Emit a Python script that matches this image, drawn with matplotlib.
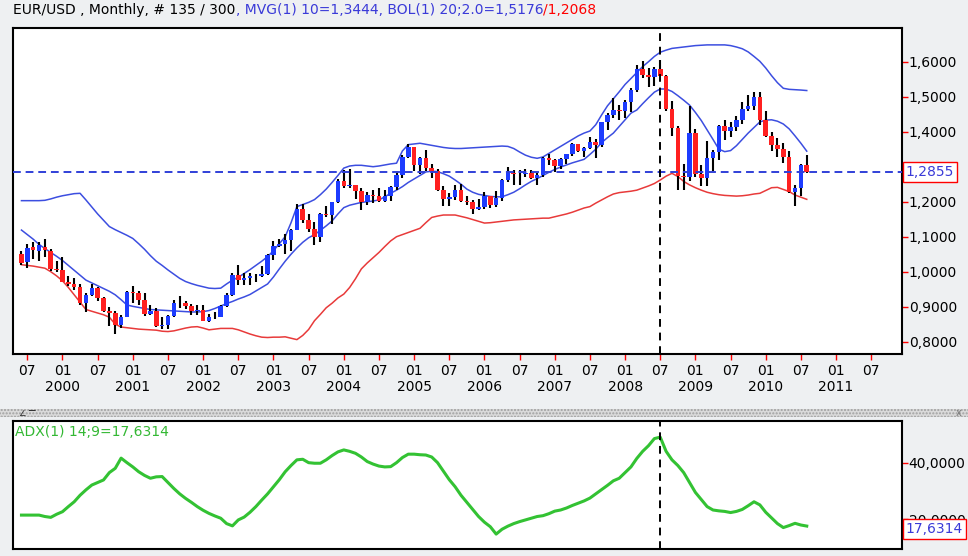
import matplotlib.pyplot as plt
from matplotlib.patches import Rectangle
import numpy as np
import pandas as pd

plt.rcParams['font.family'] = ['DejaVu Sans']
plt.rcParams['font.size'] = 10

# monthly EUR/USD bars, Jun 1999 .. Aug 2010
first_month = '1999-06'
last_axis_month = '2011-07'
cursor_month = '2008-07'
last_price = 1.2855

open_ = [1.052, 1.027, 1.071, 1.058, 1.072, 1.058, 1.008, 1.006, 0.972, 0.966,
         0.957, 0.911, 0.934, 0.953, 0.925, 0.889, 0.883, 0.849, 0.871, 0.942,
         0.938, 0.920, 0.880, 0.888, 0.846, 0.849, 0.874, 0.912, 0.911, 0.901,
         0.889, 0.890, 0.860, 0.870, 0.872, 0.902, 0.933, 0.991, 0.977, 0.981,
         0.987, 0.988, 0.993, 1.049, 1.073, 1.079, 1.091, 1.120, 1.180, 1.148,
         1.123, 1.099, 1.165, 1.161, 1.199, 1.259, 1.246, 1.247, 1.231, 1.198,
         1.219, 1.217, 1.202, 1.215, 1.243, 1.276, 1.329, 1.356, 1.304, 1.325,
         1.296, 1.288, 1.234, 1.209, 1.213, 1.233, 1.203, 1.198, 1.179, 1.184,
         1.215, 1.192, 1.212, 1.262, 1.281, 1.279, 1.278, 1.281, 1.268, 1.276,
         1.325, 1.319, 1.303, 1.323, 1.336, 1.365, 1.345, 1.354, 1.370, 1.363,
         1.427, 1.448, 1.463, 1.459, 1.485, 1.518, 1.579, 1.561, 1.556, 1.578,
         1.560, 1.466, 1.410, 1.273, 1.270, 1.397, 1.280, 1.267, 1.325, 1.342,
         1.415, 1.403, 1.412, 1.433, 1.464, 1.472, 1.500, 1.433, 1.387, 1.363,
         1.351, 1.329, 1.229, 1.240, 1.305]
high = [1.058, 1.078, 1.085, 1.085, 1.094, 1.066, 1.030, 1.041, 0.989, 0.982,
        0.966, 0.938, 0.965, 0.956, 0.929, 0.900, 0.889, 0.876, 0.945, 0.959,
        0.946, 0.939, 0.906, 0.895, 0.871, 0.877, 0.919, 0.932, 0.916, 0.909,
        0.905, 0.904, 0.878, 0.885, 0.905, 0.940, 0.996, 1.018, 0.995, 0.995,
        0.994, 1.015, 1.050, 1.087, 1.094, 1.108, 1.121, 1.193, 1.193, 1.164,
        1.141, 1.167, 1.189, 1.200, 1.265, 1.290, 1.293, 1.248, 1.238, 1.228,
        1.233, 1.239, 1.234, 1.244, 1.281, 1.333, 1.366, 1.357, 1.327, 1.348,
        1.309, 1.294, 1.245, 1.226, 1.248, 1.252, 1.216, 1.204, 1.208, 1.229,
        1.216, 1.232, 1.265, 1.298, 1.290, 1.290, 1.293, 1.292, 1.281, 1.329,
        1.337, 1.323, 1.325, 1.337, 1.368, 1.365, 1.355, 1.385, 1.380, 1.428,
        1.453, 1.497, 1.476, 1.491, 1.524, 1.590, 1.602, 1.582, 1.584, 1.604,
        1.563, 1.487, 1.415, 1.308, 1.472, 1.407, 1.306, 1.374, 1.349, 1.418,
        1.434, 1.429, 1.445, 1.484, 1.506, 1.514, 1.514, 1.458, 1.398, 1.382,
        1.369, 1.344, 1.247, 1.307, 1.333]
low = [1.020, 1.012, 1.036, 1.030, 1.041, 1.002, 0.999, 0.970, 0.958, 0.949,
       0.904, 0.884, 0.931, 0.916, 0.885, 0.844, 0.823, 0.838, 0.870, 0.911,
       0.904, 0.874, 0.877, 0.843, 0.835, 0.836, 0.870, 0.895, 0.894, 0.876,
       0.875, 0.858, 0.857, 0.864, 0.872, 0.900, 0.931, 0.963, 0.961, 0.961,
       0.970, 0.986, 0.991, 1.033, 1.071, 1.050, 1.059, 1.118, 1.140, 1.113,
       1.077, 1.086, 1.155, 1.136, 1.197, 1.238, 1.240, 1.208, 1.176, 1.191,
       1.196, 1.200, 1.200, 1.203, 1.233, 1.269, 1.326, 1.287, 1.278, 1.288,
       1.267, 1.231, 1.187, 1.187, 1.206, 1.199, 1.191, 1.164, 1.175, 1.180,
       1.183, 1.186, 1.203, 1.256, 1.247, 1.248, 1.272, 1.265, 1.248, 1.270,
       1.305, 1.286, 1.293, 1.307, 1.330, 1.341, 1.327, 1.351, 1.326, 1.356,
       1.406, 1.439, 1.433, 1.440, 1.457, 1.513, 1.552, 1.528, 1.530, 1.558,
       1.458, 1.388, 1.233, 1.233, 1.259, 1.272, 1.246, 1.245, 1.288, 1.318,
       1.375, 1.384, 1.402, 1.421, 1.458, 1.463, 1.420, 1.386, 1.344, 1.327,
       1.311, 1.224, 1.188, 1.215, 1.281]
close = [1.026, 1.069, 1.063, 1.076, 1.062, 1.008, 1.006, 0.972, 0.966, 0.957,
         0.911, 0.934, 0.953, 0.925, 0.889, 0.883, 0.849, 0.871, 0.942, 0.938,
         0.920, 0.880, 0.888, 0.846, 0.849, 0.874, 0.912, 0.911, 0.901, 0.889,
         0.890, 0.860, 0.870, 0.872, 0.902, 0.933, 0.991, 0.977, 0.981, 0.987,
         0.988, 0.993, 1.049, 1.073, 1.079, 1.091, 1.120, 1.180, 1.148, 1.123,
         1.099, 1.165, 1.161, 1.199, 1.259, 1.246, 1.247, 1.231, 1.198, 1.219,
         1.217, 1.202, 1.215, 1.243, 1.276, 1.329, 1.356, 1.304, 1.325, 1.296,
         1.288, 1.234, 1.209, 1.213, 1.233, 1.203, 1.198, 1.179, 1.184, 1.215,
         1.192, 1.212, 1.262, 1.281, 1.279, 1.278, 1.281, 1.268, 1.276, 1.325,
         1.319, 1.303, 1.323, 1.336, 1.365, 1.345, 1.354, 1.370, 1.363, 1.427,
         1.448, 1.463, 1.459, 1.485, 1.518, 1.579, 1.561, 1.556, 1.578, 1.560,
         1.466, 1.410, 1.273, 1.270, 1.397, 1.280, 1.267, 1.325, 1.342, 1.415,
         1.403, 1.412, 1.433, 1.464, 1.472, 1.500, 1.433, 1.387, 1.363, 1.351,
         1.329, 1.229, 1.240, 1.305, 1.2855]

# MVG 10 and Bollinger 20;2.0 bands as drawn
mvg10 = [1.119, 1.106, 1.093, 1.078, 1.066, 1.055, 1.044, 1.032, 1.018, 1.004,
         0.990, 0.976, 0.968, 0.960, 0.952, 0.944, 0.934, 0.920, 0.905, 0.901,
         0.898, 0.895, 0.892, 0.891, 0.890, 0.889, 0.888, 0.887, 0.886, 0.885,
         0.885, 0.886, 0.889, 0.895, 0.902, 0.909, 0.915, 0.922, 0.928, 0.935,
         0.945, 0.955, 0.965, 0.985, 1.008, 1.030, 1.050, 1.068, 1.084, 1.097,
         1.106, 1.118, 1.131, 1.145, 1.165, 1.183, 1.190, 1.194, 1.198, 1.200,
         1.202, 1.205, 1.214, 1.224, 1.233, 1.243, 1.255, 1.265, 1.275, 1.285,
         1.287, 1.286, 1.280, 1.273, 1.262, 1.250, 1.236, 1.227, 1.221, 1.218,
         1.215, 1.214, 1.214, 1.220, 1.227, 1.237, 1.248, 1.258, 1.266, 1.275,
         1.284, 1.292, 1.299, 1.305, 1.311, 1.316, 1.321, 1.335, 1.350, 1.369,
         1.383, 1.396, 1.415, 1.434, 1.453, 1.462, 1.480, 1.497, 1.513, 1.522,
         1.522, 1.515, 1.503, 1.490, 1.476, 1.455, 1.432, 1.405, 1.378, 1.350,
         1.343, 1.346, 1.360, 1.378, 1.396, 1.412, 1.428, 1.433, 1.434, 1.430,
         1.422, 1.408, 1.388, 1.367, 1.3444]
bol_upper = [1.203, 1.203, 1.203, 1.203, 1.204, 1.208, 1.213, 1.217, 1.220, 1.223,
             1.224, 1.205, 1.185, 1.165, 1.147, 1.129, 1.120, 1.112, 1.104, 1.095,
             1.080, 1.064, 1.046, 1.030, 1.018, 1.005, 0.993, 0.981, 0.972, 0.966,
             0.961, 0.957, 0.953, 0.952, 0.953, 0.965, 0.976, 0.984, 0.995, 1.006,
             1.018, 1.030, 1.043, 1.060, 1.080, 1.100, 1.140, 1.186, 1.192, 1.198,
             1.206, 1.220, 1.236, 1.255, 1.275, 1.296, 1.302, 1.304, 1.304, 1.302,
             1.300, 1.302, 1.305, 1.308, 1.310, 1.345, 1.363, 1.365, 1.367, 1.364,
             1.361, 1.358, 1.355, 1.353, 1.352, 1.352, 1.353, 1.354, 1.355, 1.356,
             1.357, 1.358, 1.359, 1.358, 1.352, 1.342, 1.333, 1.327, 1.324, 1.328,
             1.338, 1.348, 1.358, 1.368, 1.378, 1.388, 1.396, 1.402, 1.420, 1.448,
             1.474, 1.494, 1.514, 1.535, 1.552, 1.569, 1.586, 1.600, 1.615, 1.627,
             1.633, 1.638, 1.640, 1.642, 1.644, 1.646, 1.647, 1.648, 1.648, 1.648,
             1.648, 1.646, 1.642, 1.637, 1.628, 1.615, 1.601, 1.582, 1.560, 1.540,
             1.524, 1.521, 1.520, 1.519, 1.5176]
bol_lower = [1.020, 1.018, 1.016, 1.013, 1.010, 1.000, 0.988, 0.974, 0.955, 0.934,
             0.913, 0.892, 0.887, 0.882, 0.877, 0.870, 0.850, 0.842, 0.840, 0.838,
             0.836, 0.835, 0.834, 0.833, 0.830, 0.829, 0.831, 0.835, 0.839, 0.842,
             0.843, 0.839, 0.834, 0.836, 0.838, 0.838, 0.838, 0.834, 0.828, 0.822,
             0.817, 0.813, 0.812, 0.813, 0.813, 0.814, 0.810, 0.806, 0.818, 0.835,
             0.860, 0.878, 0.897, 0.910, 0.925, 0.936, 0.955, 0.980, 1.008, 1.025,
             1.040, 1.055, 1.072, 1.088, 1.100, 1.106, 1.112, 1.118, 1.124, 1.140,
             1.155, 1.159, 1.162, 1.162, 1.162, 1.158, 1.154, 1.149, 1.144, 1.139,
             1.140, 1.142, 1.144, 1.146, 1.148, 1.149, 1.150, 1.151, 1.152, 1.153,
             1.153, 1.157, 1.161, 1.165, 1.170, 1.176, 1.182, 1.186, 1.196, 1.205,
             1.214, 1.222, 1.226, 1.228, 1.230, 1.233, 1.239, 1.245, 1.252, 1.262,
             1.273, 1.281, 1.272, 1.258, 1.248, 1.240, 1.233, 1.227, 1.223, 1.220,
             1.218, 1.217, 1.216, 1.217, 1.219, 1.222, 1.224, 1.232, 1.240, 1.241,
             1.235, 1.229, 1.219, 1.213, 1.2068]

# ADX(1) 14;9 lower panel
adx = [21.5, 21.5, 21.5, 21.5, 21.0, 20.7, 21.8, 22.7, 24.5, 26.2,
       28.5, 30.4, 32.1, 33.0, 33.9, 36.5, 38.0, 41.6, 40.0, 38.5,
       36.8, 35.5, 34.5, 35.0, 35.1, 33.0, 30.9, 29.0, 27.4, 26.0,
       24.5, 23.2, 22.1, 21.2, 20.4, 18.5, 17.7, 19.8, 20.8, 22.5,
       24.5, 26.8, 29.0, 31.5, 34.0, 36.8, 39.0, 41.0, 41.2, 40.0,
       39.8, 39.8, 41.0, 42.5, 43.8, 44.5, 44.0, 43.3, 42.0, 40.4,
       39.5, 38.8, 38.5, 38.6, 40.0, 41.8, 43.0, 43.0, 42.8, 42.7,
       42.0, 40.0, 37.0, 34.0, 31.5, 28.5, 26.0, 23.5, 21.0, 19.0,
       17.4, 14.8, 16.5, 17.6, 18.5, 19.2, 19.8, 20.4, 21.0, 21.3,
       22.0, 22.9, 23.3, 24.0, 24.9, 25.7, 26.5, 27.5, 29.0, 30.5,
       32.0, 33.6, 34.5, 36.5, 38.5, 41.5, 44.0, 46.0, 48.5, 49.0,
       44.0, 41.0, 39.0, 36.5, 33.0, 29.5, 27.0, 24.5, 23.3, 23.0,
       22.8, 22.4, 22.8, 23.5, 24.8, 26.2, 25.1, 22.5, 20.5, 18.5,
       17.1, 17.8, 18.6, 18.0, 17.6314]

price_ticks = [0.8, 0.9, 1.0, 1.1, 1.2, 1.4, 1.5, 1.6]
adx_ticks = [20, 40]

BG = '#eef0f2'
BLUE_TXT = '#3a3ad8'
LINE_BLUE = '#3c4ee0'
LINE_RED = '#e83a3a'
UP_COL = '#1d3cff'
DN_COL = '#ff2020'
GREEN = '#33c233'


def fmt(v):
    return f'{v:.4f}'.replace('.', ',')


o, h, l, c = map(np.array, (open_, high, low, close))
idx = np.arange(len(c))
axis_months = pd.period_range(first_month, last_axis_month, freq='M')
tick_pos = [k for k, m in enumerate(axis_months) if m.month in (1, 7)]
tick_lab = [f'{axis_months[k].month:02d}' + (f'\n{axis_months[k].year}' if axis_months[k].month == 1 else '')
            for k in tick_pos]
cursor = (pd.Period(cursor_month, 'M') - pd.Period(first_month, 'M')).n

fig = plt.figure(figsize=(9.68, 5.56), dpi=100, facecolor=BG)
ax = fig.add_axes([0.0137, 0.3633, 0.9178, 0.5858])
ax2 = fig.add_axes([0.0137, 0.0126, 0.9178, 0.2307], sharex=ax)

# main price panel
ax.plot(idx, bol_upper, color=LINE_BLUE, lw=1.1, zorder=2)
ax.plot(idx, mvg10, color=LINE_BLUE, lw=1.1, zorder=2)
ax.plot(idx, bol_lower, color=LINE_RED, lw=1.1, zorder=2)

up = c >= o
ax.vlines(idx, l, h, colors='black', lw=1.5, zorder=3)
ax.bar(idx, np.abs(c - o), bottom=np.minimum(o, c), width=0.78,
       color=np.where(up, UP_COL, DN_COL), linewidth=0, zorder=4)

ax.axhline(last_price, color='#3040d8', lw=1.4, dashes=(4, 2.5), zorder=5)
ax.axvline(cursor, color='black', lw=1.4, dashes=(4, 3), zorder=6)

ax.set_xlim(-1.4, 150.2)
ax.set_ylim(0.7649, 1.6954)
ax.yaxis.tick_right()
ax.set_yticks(price_ticks, [fmt(v) for v in price_ticks])
ax.set_xticks(tick_pos, tick_lab)
ax.tick_params(axis='y', color='red', length=4, width=1, pad=1, labelsize=10)
ax.tick_params(axis='x', color='red', length=4, width=1, pad=3, labelsize=10)
for t in ax.get_xticklabels():
    t.set_linespacing(1.25)

ax.annotate(fmt(last_price), xy=(1, last_price), xycoords=ax.get_yaxis_transform(),
            xytext=(3, 0), textcoords='offset points', ha='left', va='center',
            color=BLUE_TXT, fontsize=10, annotation_clip=False, zorder=10,
            bbox=dict(boxstyle='square,pad=0.2', fc='white', ec='red', lw=1))

# ADX panel
ax2.plot(idx, adx, color=GREEN, lw=2.2, zorder=3)
ax2.axvline(cursor, color='black', lw=1.4, dashes=(4, 3), zorder=4)
ax2.set_ylim(9.54, 54.8)
ax2.yaxis.tick_right()
ax2.set_yticks(adx_ticks, [fmt(v) for v in adx_ticks])
ax2.tick_params(axis='y', color='red', length=4, width=1, pad=1, labelsize=10)
ax2.tick_params(axis='x', bottom=False, labelbottom=False)
ax2.text(0.002, 0.97, f'ADX(1) 14;9={fmt(adx[-1])}', transform=ax2.transAxes,
         color='#33b833', ha='left', va='top', fontsize=10)
# value box sits on top of the 20,0000 label, as in the original
ax2.annotate(fmt(adx[-1]), xy=(1, adx[-1]), xycoords=ax2.get_yaxis_transform(),
             xytext=(3, -2), textcoords='offset points', ha='left', va='center',
             color=BLUE_TXT, fontsize=10, annotation_clip=False, zorder=10,
             bbox=dict(boxstyle='square,pad=0.2', fc='white', ec='red', lw=1))

for a in (ax, ax2):
    a.set_facecolor('white')
    for s in a.spines.values():
        s.set_linewidth(1.5)
        s.set_color('black')

# header line with coloured pieces
pieces = [(f'EUR/USD , Monthly, # {len(c)} / 300', 'black'),
          (f', MVG(1) 10={fmt(mvg10[-1])}, BOL(1) 20;2.0={fmt(bol_upper[-1])}', BLUE_TXT),
          (f'/{fmt(bol_lower[-1])}', 'red')]
t = fig.text(0.0137, 0.982, pieces[0][0], color=pieces[0][1], va='center', ha='left', fontsize=10)
for s, col in pieces[1:]:
    t = ax.annotate(s, xy=(1, 0), xycoords=t, va='bottom', ha='left', color=col,
                    fontsize=10, annotation_clip=False)

# splitter strip between the panels
fig.patches.append(Rectangle((0, 0.2505), 1, 0.013, transform=fig.transFigure,
                             facecolor='#dadada', edgecolor='#a0a0a0', hatch='.....', lw=0))
fig.text(0.02, 0.2565, '\u2220 \u2594', fontsize=6, color='#333333', va='center')
fig.text(0.99, 0.2565, 'x', fontsize=7, color='#777777', va='center', ha='center')

fig.savefig('out.png', dpi=100, facecolor=BG)
